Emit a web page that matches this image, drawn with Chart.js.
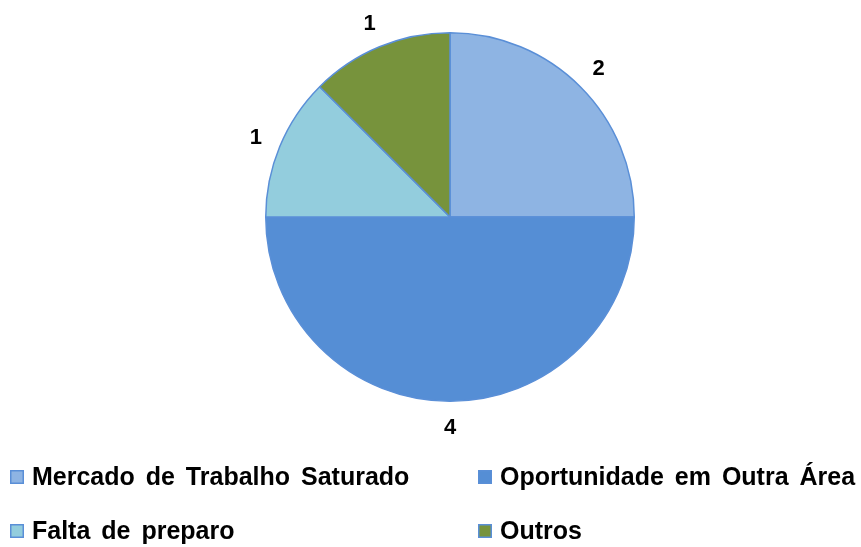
<!DOCTYPE html>
<html>
<head>
<meta charset="utf-8">
<script src="https://cdn.jsdelivr.net/npm/chart.js@4/dist/chart.umd.min.js"></script>
<style>
    html, body { margin: 0; padding: 0; background: #fff; }
    #chart1 { display: block; }
</style>
</head>
<body>
<canvas id="chart1" width="861" height="547"></canvas>
<script>
/******************************************************************************
 * data
 *****************************************************************************/
const categories = [
    'Mercado de Trabalho Saturado',
    'Oportunidade em Outra Área',
    'Falta de preparo',
    'Outros'
];
const values = [2, 4, 1, 1];
const colors = ['#8EB4E3', '#558ED5', '#93CDDD', '#77933C'];

/******************************************************************************
 * plugins
 *****************************************************************************/
const FONT = '"Liberation Sans", Arial, sans-serif';

// value labels just outside each slice
const outsideLabels = {
    id: 'outsideLabels',
    afterDatasetsDraw(chart) {
        const c = chart.ctx;
        const meta = chart.getDatasetMeta(0);
        c.save();
        c.font = 'bold 22px ' + FONT;
        c.fillStyle = '#000';
        c.textAlign = 'center';
        c.textBaseline = 'middle';
        meta.data.forEach((arc, i) => {
            const mid = (arc.startAngle + arc.endAngle) / 2;
            const r = arc.outerRadius + 26;
            c.fillText(String(chart.data.datasets[0].data[i]),
                arc.x + Math.cos(mid) * r, arc.y + Math.sin(mid) * r + 1);
        });
        c.restore();
    }
};

// two column legend under the pie
const gridLegend = {
    id: 'gridLegend',
    afterDraw(chart) {
        const c = chart.ctx;
        const ds = chart.data.datasets[0];
        const cols = [10, 478];
        const rows = [477, 531];
        c.save();
        c.font = 'bold 25px ' + FONT;
        c.textBaseline = 'middle';
        if ('wordSpacing' in c) c.wordSpacing = '4px';
        chart.data.labels.forEach((label, i) => {
            const x = cols[i % 2];
            const y = rows[Math.floor(i / 2)];
            c.fillStyle = ds.backgroundColor[i];
            c.fillRect(x, y - 7, 14, 14);
            c.strokeStyle = '#5A8FD7';
            c.lineWidth = 1.5;
            c.strokeRect(x + 0.75, y - 6.25, 12.5, 12.5);
            c.fillStyle = '#000';
            c.fillText(label, x + 22, y + 1);
        });
        c.restore();
    }
};

/******************************************************************************
 * chart
 *****************************************************************************/
const ctx = document.getElementById('chart1');

new Chart(ctx, {
    type: 'pie',
    data: {
        labels: categories,
        datasets: [{
            data: values,
            backgroundColor: colors,
            borderColor: '#5A8FD7',
            borderWidth: 1.5
        }]
    },
    options: {
        responsive: false,
        animation: false,
        layout: {
            padding: { left: 265, right: 226, top: 32, bottom: 145 }
        },
        plugins: {
            legend: { display: false },
            tooltip: { enabled: false }
        }
    },
    plugins: [outsideLabels, gridLegend]
});
</script>
</body>
</html>
